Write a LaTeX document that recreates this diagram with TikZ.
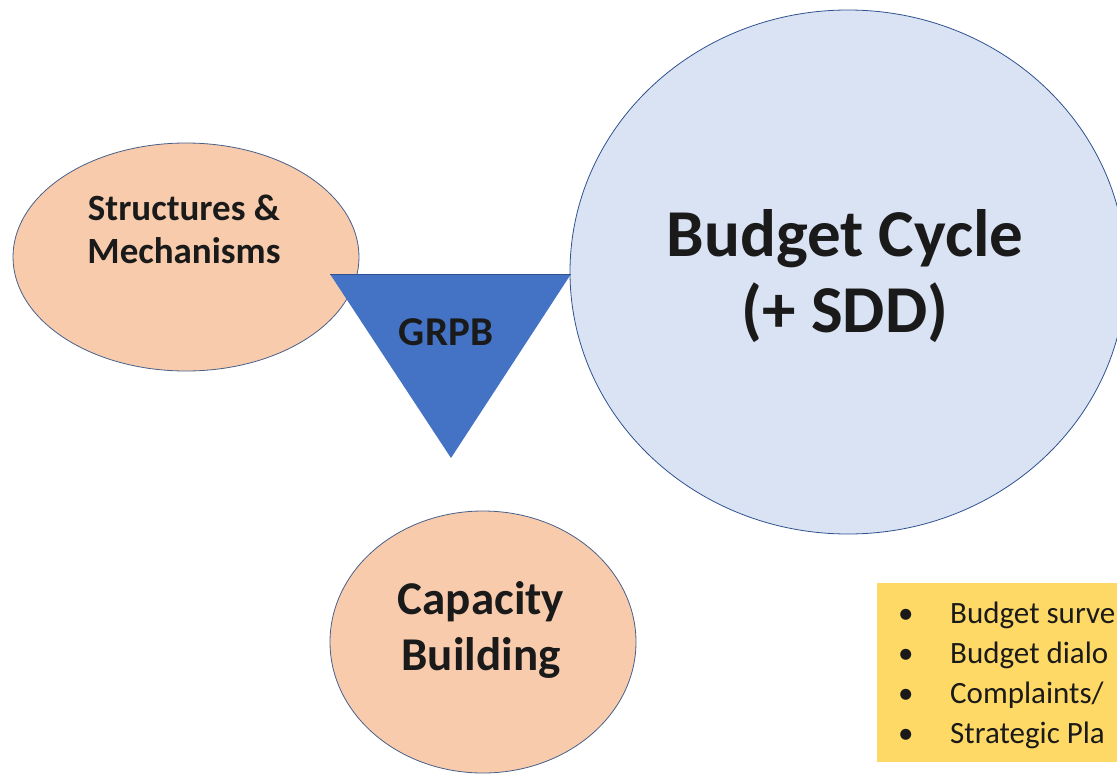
\documentclass[tikz,border=0pt]{standalone}
\usepackage{fontspec}
\setmainfont{Carlito}
\usetikzlibrary{shapes.geometric}
\definecolor{peach}{HTML}{F8CBAD}
\definecolor{lightblue}{HTML}{DAE3F3}
\definecolor{edgeblue}{HTML}{2F528F}
\definecolor{triblue}{HTML}{4472C4}
\definecolor{boxyellow}{HTML}{FFD966}
\definecolor{txt}{HTML}{1A1A1A}
\tikzset{
  peachell/.style={ellipse, draw=edgeblue!70!gray, line width=0.8pt, fill=peach, inner sep=0pt, text=txt, font=\bfseries, align=center},
  bigcirc/.style={ellipse, draw=edgeblue, line width=0.8pt, fill=lightblue, inner sep=0pt, text=txt, font=\bfseries, align=center},
  bullettext/.style={anchor=base west, text=txt, font=\fontsize{31}{37}\selectfont, inner sep=0pt},
}
\begin{document}
\begin{tikzpicture}[x=1pt,y=-1pt]
\useasboundingbox (0,0) rectangle (1117,774);
\clip (0,0) rectangle (1117,774);
\node[bigcirc, minimum width=556pt, minimum height=524pt] (bc) at (848,272) {};
\node[text=txt, font=\bfseries\fontsize{67}{76}\selectfont, align=center] (bct) at (845,276) {Budget Cycle\\(+ SDD)};
\node[peachell, minimum width=346pt, minimum height=228pt] (sm) at (186,257) {};
\node[text=txt, font=\bfseries\fontsize{37}{43}\selectfont, align=center] (smt) at (184,229) {Structures \&\\Mechanisms};
\node[peachell, minimum width=306pt, minimum height=262pt] (cb) at (483,642) {};
\node[text=txt, font=\bfseries\fontsize{47}{56}\selectfont, align=center] (cbt) at (481,630) {Capacity\\Building};
\coordinate (t1) at (330,274);
\coordinate (t2) at (571,274);
\coordinate (t3) at (451,458);
\fill[triblue] (t1) -- (t2) -- (t3) -- cycle;
\draw[edgeblue, line width=0.8pt] (t1) -- (t2);
\node[text=txt, font=\bfseries\fontsize{41}{48}\selectfont] (grpb) at (446,332) {GRPB};
\fill[boxyellow] (877,583) rectangle (1130,762);
\node[bullettext] (b1) at (898,623) {\textbullet};
\node[bullettext] (l1) at (950,623) {Budget surve};
\node[bullettext] (b2) at (898,663) {\textbullet};
\node[bullettext] (l2) at (950,663) {Budget dialo};
\node[bullettext] (b3) at (898,703) {\textbullet};
\node[bullettext] (l3) at (950,703) {Complaints/};
\node[bullettext] (b4) at (898,743) {\textbullet};
\node[bullettext] (l4) at (950,743) {Strategic Pla};
\end{tikzpicture}
\end{document}
